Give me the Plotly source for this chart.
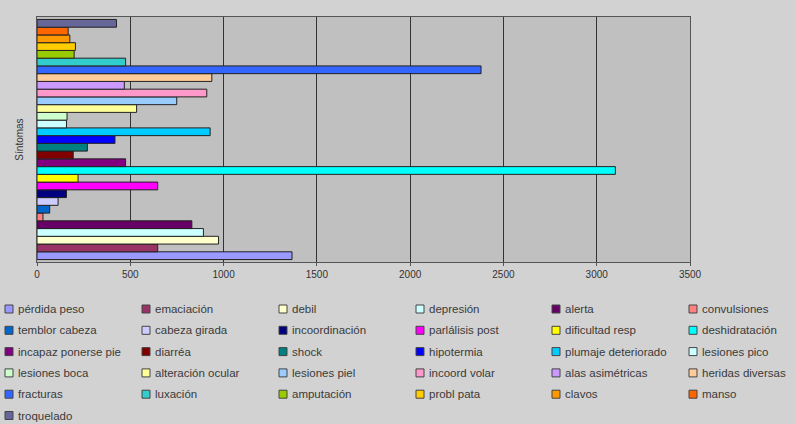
import plotly.graph_objects as go

sintomas = ["pérdida peso", "emaciación", "debil", "depresión", "alerta", "convulsiones",
            "temblor cabeza", "cabeza girada", "incoordinación", "parlálisis post", "dificultad resp", "deshidratación",
            "incapaz ponerse pie", "diarréa", "shock", "hipotermia", "plumaje deteriorado", "lesiones pico",
            "lesiones boca", "alteración ocular", "lesiones piel", "incoord volar", "alas asimétricas", "heridas diversas",
            "fracturas", "luxación", "amputación", "probl pata", "clavos", "manso",
            "troquelado"]
valores = [1367, 647, 973, 892, 830, 32,
           68, 113, 158, 647, 220, 3100,
           475, 194, 270, 418, 928, 158,
           161, 534, 749, 910, 468, 937,
           2380, 475, 199, 206, 176, 167,
           426]
colores = ["#9999FF", "#993366", "#FFFFCC", "#CCFFFF", "#660066", "#FF8080",
           "#0066CC", "#CCCCFF", "#000080", "#FF00FF", "#FFFF00", "#00FFFF",
           "#800080", "#800000", "#008080", "#0000FF", "#00CCFF", "#CCFFFF",
           "#CCFFCC", "#FFFF99", "#99CCFF", "#FF99CC", "#CC99FF", "#FFCC99",
           "#3366FF", "#33CCCC", "#99CC00", "#FFCC00", "#FF9900", "#FF6600",
           "#666699"]
categoria = [""]
ticks = [0, 500, 1000, 1500, 2000, 2500, 3000, 3500]

W, H = 796, 424
ML, MT = 37, 17
MR = W - 690
MB = H - 262
PW, PH = W - ML - MR, H - MT - MB

fig = go.Figure()
for nombre, v, c in zip(sintomas, valores, colores):
    fig.add_trace(go.Bar(
        x=[v], y=categoria, name=nombre, orientation="h",
        marker=dict(color=c, line=dict(color="#222222", width=1)),
    ))

# manual legend (6 columns, row-major) placed below the plot
col_x = [5, 142, 279, 416, 552, 689]
row_y0, row_dy, sq = 309, 21.3, 8
shapes, annotations = [], []
for i, (nombre, c) in enumerate(zip(sintomas, colores)):
    r, k = divmod(i, 6)
    px, py = col_x[k], row_y0 + r * row_dy
    x0 = (px - ML) / PW
    x1 = (px + sq - ML) / PW
    y0 = (H - MB - (py + sq / 2)) / PH
    y1 = (H - MB - (py - sq / 2)) / PH
    shapes.append(dict(type="rect", xref="paper", yref="paper", x0=x0, x1=x1, y0=y0, y1=y1,
                       fillcolor=c, line=dict(color="#444444", width=1)))
    annotations.append(dict(xref="paper", yref="paper", x=(px + 11 - ML) / PW,
                            y=(H - MB - py) / PH, text=nombre, showarrow=False,
                            xanchor="left", yanchor="middle",
                            font=dict(size=11.5, color="#3a3a3a")))

fig.update_layout(
    width=W, height=H,
    barmode="group", bargap=0.02, bargroupgap=0.0,
    paper_bgcolor="#d2d2d2", plot_bgcolor="#c0c0c0",
    margin=dict(l=ML, r=MR, t=MT, b=MB, autoexpand=False),
    font=dict(family="Liberation Sans, Arial, sans-serif", size=11, color="#333333"),
    xaxis=dict(range=[0, 3500], tickvals=ticks, ticktext=[str(t) for t in ticks],
               showgrid=True, gridcolor="#333333", gridwidth=1,
               showline=True, linecolor="#555555", mirror=True,
               ticks="outside", ticklen=3, tickcolor="#555555",
               tickfont=dict(size=10, color="#333333"), zeroline=False, automargin=False),
    yaxis=dict(showticklabels=False, showgrid=False, showline=True, linecolor="#555555", mirror=True,
               automargin=False,
               title=dict(text="Síntomas", font=dict(size=10, color="#333333"), standoff=10)),
    showlegend=False,
    shapes=shapes,
    annotations=annotations,
)

fig.write_html(
    "out.html",
    config={"displayModeBar": False},
    post_script="document.body.style.margin='0';document.body.style.overflow='hidden';"
                "document.body.style.background='#d2d2d2';",
)
